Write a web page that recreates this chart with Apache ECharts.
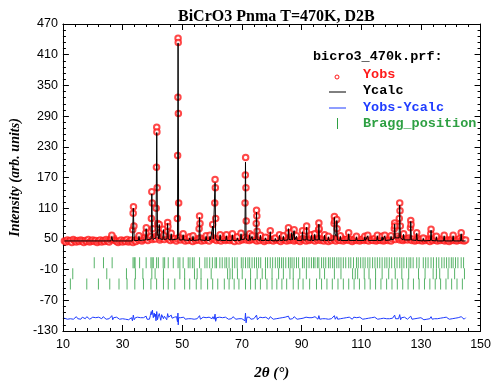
<!DOCTYPE html>
<html>
<head>
<meta charset="utf-8">
<script src="https://cdn.jsdelivr.net/npm/echarts@6/dist/echarts.min.js"></script>
<style>html,body{margin:0;padding:0;background:#fff}#c{width:494px;height:386px}</style>
</head>
<body>
<div id="c"></div>
<script>
// ---- data ----
var titleText = 'BiCrO3 Pnma T=470K, D2B';
var xTicks = [10, 30, 50, 70, 90, 110, 130, 150];
var yTicks = [-130, -70, -10, 50, 110, 170, 230, 290, 350, 410, 470];

// observed intensities, background part
var obsBase = [
[10.5,46],[11,44],[11.5,48],[12,45],[12.5,47],[13,43],[13.5,49],[14,46],[14.5,44],[15,47],
[15.5,45],[16,48],[16.5,46],[17,43],[17.5,47],[18,45],[18.5,49],[19,44],[19.5,46],[20,48],
[20.5,45],[21,47],[21.5,43],[22,46],[22.5,48],[23,44],[23.5,47],[24,45],[24.5,49],[25,46],
[25.5,44],[26,48],[26.5,50],[27,52],[27.5,47],[28,45],[28.5,43],[29,46],[29.5,48],[30,44],
[30.5,47],[31,45],[31.5,49],[32,44],[32.5,46],[33,48],[33.5,43],[34,47],[34.5,45],[35,50],
[35.5,48],[36,51],[36.5,46],[37,49],[37.5,53],[38,50],[38.5,47],[39,52],[39.5,55],[40,49],
[40.5,52],[41,50],[41.5,56],[42,54],[42.5,48],[43,51],[43.5,55],[44,49],[44.5,53],[45,58],
[45.5,50],[46,47],[46.5,52],[47,49],[47.5,51],[48,46],[48.5,50],[49,53],[49.5,48],[50,52],
[50.5,49],[51,46],[51.5,50],[52,47],[52.5,52],[53,48],[53.5,45],[54,51],[54.5,47],[55,50],
[55.5,48],[56,52],[56.5,46],[57,50],[57.5,47],[58,51],[58.5,49],[59,46],[59.5,53],[60,50],
[60.5,52],[61,49],[61.5,47],[62,51],[62.5,48],[63,46],[63.5,50],[64,53],[64.5,47],[65,49],
[65.5,51],[66,47],[66.5,50],[67,48],[67.5,45],[68,52],[68.5,49],[69,46],[69.5,51],[70,48],
[70.5,50],[71,53],[71.5,48],[72,51],[72.5,47],[73,50],[73.5,49],[74,52],[74.5,48],[75,46],
[75.5,50],[76,47],[76.5,51],[77,49],[77.5,45],[78,48],[78.5,52],[79,47],[79.5,50],[80,48],
[80.5,46],[81,50],[81.5,48],[82,51],[82.5,47],[83,45],[83.5,49],[84,52],[84.5,48],[85,46],
[85.5,50],[86,47],[86.5,49],[87,51],[87.5,46],[88,48],[88.5,50],[89,47],[89.5,45],[90,49],
[90.5,51],[91,48],[91.5,46],[92,50],[92.5,47],[93,49],[93.5,52],[94,48],[94.5,46],[95,50],
[95.5,48],[96,51],[96.5,47],[97,49],[97.5,46],[98,50],[98.5,48],[99,45],[99.5,49],[100,47],
[100.5,51],[101,49],[101.5,46],[102,50],[102.5,48],[103,47],[103.5,51],[104,46],[104.5,49],[105,48],
[105.5,50],[106,47],[106.5,49],[107,45],[107.5,48],[108,51],[108.5,47],[109,49],[109.5,46],[110,48],
[110.5,50],[111,47],[111.5,49],[112,48],[112.5,46],[113,50],[113.5,48],[114,47],[114.5,51],[115,46],
[115.5,48],[116,50],[116.5,47],[117,49],[117.5,46],[118,48],[118.5,51],[119,47],[119.5,49],[120,46],
[120.5,50],[121,53],[121.5,49],[122,55],[122.5,51],[123,48],[123.5,50],[124,47],[124.5,49],[125,51],
[125.5,48],[126,52],[126.5,49],[127,47],[127.5,50],[128,46],[128.5,48],[129,51],[129.5,47],[130,49],
[130.5,46],[131,49],[131.5,47],[132,50],[132.5,48],[133,45],[133.5,49],[134,47],[134.5,50],[135,48],
[135.5,46],[136,49],[136.5,47],[137,50],[137.5,48],[138,46],[138.5,49],[139,47],[139.5,45],[140,48],
[140.5,50],[141,47],[141.5,49],[142,46],[142.5,48],[143,51],[143.5,47],[144,49],[144.5,46],[145,48]
];

// observed intensities on the reflections
var obsPeaks = [
[26.3,52],[26.4,57],[33.4,68],[33.55,100],[33.65,113],[33.8,75],[35.5,56],[37.8,62],[37.95,72],
[39.65,90],[39.8,142],[39.95,120],[40.1,70],[41.25,110],[41.35,190],[41.45,268],[41.5,259],[41.6,150],[41.75,80],
[42.3,78],[42.4,62],[43.7,69],[43.85,58],[45.0,65],[45.1,82],[45.2,74],[46.3,61],
[48.35,90],[48.45,213],[48.55,327],[48.6,442],[48.65,434],[48.7,295],[48.8,120],
[50.3,60],[52.5,54],[53.6,56],[55.65,70],[55.8,95],[55.95,80],[58,56],[59.3,57],[60.2,78],
[60.9,120],[61.0,166],[61.1,150],[61.2,90],[62.7,58],[64.8,58],[66.8,60],[68.5,54],[69.7,61],
[71.05,120],[71.15,175],[71.25,209],[71.35,150],[71.45,85],[72.6,60],[73.4,56],
[74.8,80],[74.9,106],[75.0,95],[75.1,65],[76.2,57],[77.9,53],[79.5,66],[81.2,52],[82.6,58],[83.9,56],
[85.5,62],[85.6,72],[86.7,63],[87.5,68],[88.3,56],[90.3,66],[91.6,65],[91.7,75],[93.3,58],[94.4,60],
[95.7,68],[95.8,81],[95.9,70],[97.7,58],[99,55],[100.9,80],[101.0,94],[101.1,85],[101.8,88],[101.9,70],
[103,56],[105.8,62],[108.4,55],[111.2,55],[112.2,57],[115.4,57],[117,55],[117.9,57],[120,56],
[121.1,70],[121.2,81],[121.3,75],[122.75,90],[122.9,120],[123.0,105],[123.1,75],[124.2,60],
[126.5,72],[126.6,86],[126.7,78],[128.6,62],[130.8,52],[133.3,60],[133.4,69],[135.2,55],
[137.8,57],[140.8,57],[143.5,62]
];

// calculated profile
var ycalc = [
[10.5,46],[26.1,46],[26.4,55],[26.7,46],[33.3,46],[33.6,110],[33.9,47],[35.3,47],[35.5,55],[35.7,47],
[37.7,48],[37.9,70],[38.2,48],[39.6,50],[39.8,138],[40.0,60],[40.2,49],[41.2,52],[41.45,258],[41.7,60],
[42.1,50],[42.3,78],[42.5,50],[43.5,49],[43.7,68],[43.9,49],[44.9,50],[45.1,80],[45.3,50],[46.1,48],
[46.3,60],[46.5,48],[48.4,50],[48.6,433],[48.8,55],[49.0,48],[50.1,48],[50.3,58],[50.5,48],[52.3,47],
[52.5,52],[52.7,47],[53.4,47],[53.6,55],[53.8,47],[55.6,48],[55.8,92],[56.0,48],[57.8,47],[58.0,55],
[58.2,47],[59.1,47],[59.3,55],[59.5,48],[60.0,48],[60.2,75],[60.4,50],[60.8,52],[61.0,160],[61.2,52],
[61.4,48],[62.5,47],[62.7,58],[62.9,47],[64.6,47],[64.8,56],[65.0,47],[66.6,47],[66.8,58],[67.0,47],
[68.3,47],[68.5,52],[68.7,47],[69.5,47],[69.7,60],[69.9,48],[71.0,50],[71.2,200],[71.4,52],[71.6,48],
[72.4,47],[72.6,58],[72.8,47],[73.2,47],[73.4,55],[73.6,48],[74.7,49],[74.9,102],[75.1,49],[76.0,47],
[76.2,57],[76.4,47],[77.7,47],[77.9,52],[78.1,47],[79.3,47],[79.5,64],[79.7,47],[81.0,46],[81.2,51],
[81.4,46],[82.4,47],[82.6,57],[82.8,47],[83.7,47],[83.9,55],[84.1,47],[85.4,48],[85.6,70],[85.8,49],
[86.5,48],[86.7,62],[86.9,48],[87.3,48],[87.5,66],[87.7,48],[88.1,47],[88.3,55],[88.5,47],[90.1,47],
[90.3,64],[90.5,48],[91.5,48],[91.7,73],[91.9,48],[93.1,47],[93.3,57],[93.5,47],[94.2,47],[94.4,59],
[94.6,48],[95.6,48],[95.8,79],[96.0,48],[97.5,47],[97.7,57],[97.9,47],[98.8,47],[99.0,54],[99.2,47],
[100.8,48],[101.0,92],[101.2,60],[101.6,55],[101.8,86],[102.0,48],[102.8,47],[103.0,55],[103.2,47],
[105.6,47],[105.8,60],[106.0,47],[108.2,47],[108.4,54],[108.6,47],[111.0,47],[111.2,54],[111.4,47],
[112.0,47],[112.2,56],[112.4,47],[115.2,47],[115.4,56],[115.6,47],[116.8,47],[117.0,54],[117.2,47],
[117.7,47],[117.9,56],[118.1,47],[119.8,48],[120.0,55],[120.2,48],[121.0,50],[121.2,79],[121.4,52],
[122.7,52],[122.9,116],[123.1,52],[124.0,48],[124.2,59],[124.4,48],[126.4,48],[126.6,84],[126.8,48],
[128.4,47],[128.6,61],[128.8,47],[130.6,46],[130.8,51],[131.0,46],[133.2,47],[133.4,67],[133.6,47],
[135.0,46],[135.2,54],[135.4,46],[137.6,46],[137.8,56],[138.0,46],[140.6,46],[140.8,56],[141.0,46],
[143.3,46],[143.5,60],[143.7,46],[145.0,46]
];

// difference curve (already offset in the reference)
var diff = [
[10.5,-105],[11,-102],[11.5,-107],[12,-104],[12.5,-106],[13,-103],[13.5,-107],[14,-105],[14.5,-102],[15,-106],
[15.5,-104],[16,-107],[16.5,-103],[17,-105],[17.5,-106],[18,-102],[18.5,-105],[19,-107],[19.5,-104],[20,-103],
[20.5,-106],[21,-104],[21.5,-107],[22,-103],[22.5,-105],[23,-106],[23.5,-102],[24,-105],[24.5,-107],[25,-104],
[25.5,-106],[26,-103],[26.4,-100],[26.7,-108],[27,-104],[27.5,-106],[28,-103],[28.5,-105],[29,-107],[29.5,-104],
[30,-106],[30.5,-103],[31,-107],[31.5,-105],[32,-108],[32.5,-106],[33,-104],[33.3,-110],[33.6,-99],[33.9,-108],
[34.3,-104],[34.7,-107],[35,-103],[35.5,-106],[36,-104],[36.5,-107],[37,-104],[37.5,-106],[37.9,-101],[38.2,-107],
[38.6,-104],[39,-107],[39.3,-100],[39.6,-92],[39.8,-98],[40.0,-89],[40.3,-104],[40.6,-95],[40.8,-102],[41.0,-97],
[41.2,-110],[41.45,-92],[41.7,-108],[42.0,-101],[42.3,-96],[42.6,-104],[42.8,-109],[43.1,-98],[43.3,-95],[43.7,-106],
[44.0,-101],[44.2,-98],[44.5,-104],[44.8,-108],[45.1,-96],[45.4,-103],[45.6,-106],[46.0,-101],[46.3,-99],[46.6,-105],
[47,-107],[47.4,-103],[47.8,-105],[48.1,-102],[48.4,-112],[48.55,-95],[48.65,-118],[48.8,-104],[49.1,-107],[49.5,-104],
[50,-106],[50.5,-103],[51,-107],[51.5,-104],[52,-106],[52.5,-103],[53,-106],[53.5,-104],[54,-107],[54.5,-104],
[55,-106],[55.5,-103],[55.8,-100],[56.1,-107],[56.5,-105],[57,-103],[57.5,-106],[58,-104],[58.5,-107],[59,-103],
[59.5,-105],[60,-106],[60.3,-102],[60.7,-107],[61.0,-97],[61.2,-111],[61.5,-104],[62,-106],[62.5,-103],[63,-106],
[63.5,-104],[64,-107],[64.5,-103],[65,-105],[65.5,-107],[66,-104],[66.5,-106],[67,-102],[67.5,-105],[68,-107],
[68.5,-104],[69,-106],[69.5,-103],[70,-106],[70.5,-104],[71.0,-110],[71.2,-95],[71.4,-114],[71.7,-103],[72,-106],
[72.5,-103],[73,-107],[73.5,-104],[74,-106],[74.5,-103],[74.9,-99],[75.2,-108],[75.5,-105],[76,-103],[76.5,-106],
[77,-104],[77.5,-107],[78,-103],[78.5,-105],[79,-107],[79.5,-102],[80,-105],[80.5,-107],[81,-104],[81.5,-106],
[82,-103],[82.5,-105],[83,-107],[83.5,-104],[84,-106],[84.5,-103],[85,-106],[85.6,-101],[86,-107],[86.5,-104],
[87,-106],[87.5,-102],[88,-105],[88.5,-107],[89,-104],[89.5,-106],[90,-103],[90.5,-105],[91,-107],[91.5,-103],
[92,-106],[92.5,-104],[93,-107],[93.5,-104],[94,-106],[94.5,-102],[95,-105],[95.5,-107],[95.8,-100],[96.1,-107],
[96.5,-104],[97,-106],[97.5,-103],[98,-106],[98.5,-104],[99,-107],[99.5,-104],[100,-106],[100.5,-103],[101.0,-100],
[101.3,-107],[101.8,-102],[102.1,-107],[102.5,-104],[103,-106],[103.5,-103],[104,-105],[104.5,-107],[105,-104],[105.5,-106],
[106,-103],[106.5,-105],[107,-107],[107.5,-103],[108,-106],[108.5,-104],[109,-106],[109.5,-103],[110,-105],[110.5,-107],
[111,-104],[111.5,-106],[112,-103],[112.5,-105],[113,-107],[113.5,-104],[114,-106],[114.5,-103],[115,-105],[115.5,-107],
[116,-104],[116.5,-106],[117,-103],[117.5,-105],[118,-102],[118.5,-106],[119,-104],[119.5,-106],[120,-103],[120.5,-105],
[121.0,-102],[121.2,-99],[121.5,-106],[122,-103],[122.5,-106],[122.9,-98],[123.2,-108],[123.5,-104],[124,-106],[124.5,-103],
[125,-105],[125.5,-107],[126,-104],[126.6,-101],[127,-107],[127.5,-104],[128,-106],[128.5,-103],[129,-105],[129.5,-107],
[130,-104],[130.5,-106],[131,-108],[131.5,-105],[132,-107],[132.5,-104],[133,-106],[133.4,-102],[133.8,-107],[134.2,-104],
[134.5,-106],[135,-104],[135.5,-106],[136,-103],[136.5,-105],[137,-107],[137.5,-104],[138,-106],[138.5,-103],[139,-105],
[139.5,-107],[140,-104],[140.5,-106],[141,-103],[141.5,-105],[142,-107],[142.5,-104],[143,-106],[143.5,-102],[144,-105],
[144.5,-107],[145,-104]
];

// Bragg reflection positions, three phases (rows)
var bragg1 = [20.5,23.6,26.5,33.5,33.9,34.2,35.7,37.9,39.5,39.9,40.3,41.4,42.0,43.6,44.1,45.3,47.0,48.6,49.2,50.3,
52.0,52.6,53.4,54.0,55.8,57.6,58.3,59.2,60.1,61.0,61.5,62.6,63.4,64.3,64.9,65.7,66.8,67.6,68.4,69.8,70.4,71.2,
72.0,72.6,73.4,74.2,74.9,75.6,76.3,77.9,78.6,79.5,80.3,81.2,82.0,82.6,83.3,83.9,84.7,85.6,86.2,86.8,87.5,88.3,
89.0,90.3,90.9,91.7,92.5,93.3,94.0,94.5,95.3,95.8,96.7,97.4,98.1,99.0,99.6,100.4,101.0,101.8,102.5,103.2,104.0,
104.8,105.8,106.5,107.4,108.4,109.0,109.8,110.6,111.3,112.2,112.9,113.8,114.6,115.4,116.2,117.0,117.9,118.6,
119.4,120.2,121.2,122.0,122.9,123.6,124.3,125.2,126.0,126.6,127.4,128.6,129.4,130.8,131.6,132.4,133.4,134.2,
135.2,136.0,137.0,137.8,138.6,139.4,140.2,140.8,141.6,142.4,143.5,144.3];
var bragg2 = [13.3,24.7,31.3,34.3,36.8,39.8,40.9,43.7,49.2,50.8,54.1,55.0,56.3,59.7,65.2,66.0,66.8,68.5,70.1,72.9,
75.1,76.8,77.9,80.1,82.3,83.9,86.1,87.2,89.4,91.6,96.1,97.7,101.0,103.2,107.1,108.0,108.8,111.0,112.6,114.8,
117.0,119.2,121.4,123.6,125.9,129.2,131.4,134.1,135.2,136.3,139.1,141.3,144.6];
var bragg3 = [12.5,18.0,21.9,25.7,28.8,31.5,34.1,37.0,39.5,41.4,43.7,45.3,47.5,50.8,52.5,54.7,56.3,58.5,60.2,61.9,
64.1,65.7,67.4,69.0,71.2,72.9,74.5,76.2,78.4,80.1,81.7,83.4,85.0,87.2,88.9,90.5,92.7,95.0,96.7,98.5,100.3,102.2,
104.0,105.8,107.6,109.4,111.2,113.0,114.8,116.6,118.5,120.3,122.1,123.9,125.7,127.5,129.4,131.2,133.0,134.8,
136.6,138.4,140.3,142.1,143.9];
var braggRowY = [3.5, -18, -38];

var legendHeader = 'bicro3_470k.prf:';
var legendNames = ['Yobs', 'Ycalc', 'Yobs-Ycalc', 'Bragg_position'];

// ---- chart ----
var RED = '#ff1a1a', BLACK = '#000', BLUE = '#1f3cff', GREEN = '#2ea043';
function rowData(arr, y){ return arr.map(function(x){ return [x, y]; }); }

var tickFont = {color:'#000', fontFamily:'"Liberation Sans", Arial, sans-serif', fontSize:12.5};
function xAx(pos, show){
  return {type:'value', min:10, max:150, interval:20, position:pos,
    axisLine:{show:true, onZero:false, lineStyle:{color:'#000', width:1}},
    axisTick:{show:true, inside:true, length:6, lineStyle:{color:'#000'}},
    minorTick:{show:true, splitNumber:5, length:3, lineStyle:{color:'#000'}},
    splitLine:{show:false}, minorSplitLine:{show:false},
    axisLabel:Object.assign({show:show, margin:7}, tickFont),
    name: show ? '2θ (°)' : '', nameLocation:'middle', nameGap:35,
    nameTextStyle:{fontFamily:'"Liberation Serif", serif', fontWeight:'bold', fontStyle:'italic', fontSize:15, color:'#000'}
  };
}
function yAx(pos, show){
  return {type:'value', min:-130, max:470, interval:60, position:pos,
    axisLine:{show:true, onZero:false, lineStyle:{color:'#000', width:1}},
    axisTick:{show:true, inside:true, length:6, lineStyle:{color:'#000'}},
    minorTick:{show:true, splitNumber:5, length:3, lineStyle:{color:'#000'}},
    splitLine:{show:false}, minorSplitLine:{show:false},
    axisLabel:Object.assign({show:show, margin:5}, tickFont),
    name: show ? 'Intensity (arb. units)' : '', nameLocation:'middle', nameGap:37, nameRotate:90,
    nameTextStyle:{fontFamily:'"Liberation Serif", serif', fontWeight:'bold', fontStyle:'italic', fontSize:14, color:'#000'}
  };
}

var braggSeries = [bragg1, bragg2, bragg3].map(function(arr, i){
  return {type:'scatter', name:'Bragg_position', data: rowData(arr, braggRowY[i]),
    symbol:'rect', symbolSize:[1, 11], itemStyle:{color:GREEN}, silent:true, z:2};
});

var gx = 313, lx = 363;
var legendFont = 'bold 13.5px "Liberation Mono", "Courier New", monospace';
var chart = echarts.init(document.getElementById('c'), null, {renderer:'canvas'});
chart.setOption({
  animation:false,
  backgroundColor:'#fff',
  title:{text:titleText, left:173, top:4,
    textStyle:{fontFamily:'"Liberation Serif", serif', fontWeight:'bold', fontSize:16, color:'#000'}},
  grid:{left:60, right:11, top:24, bottom:44, containLabel:false},
  xAxis:[xAx('bottom', true), xAx('top', false)],
  yAxis:[yAx('left', true), yAx('right', false)],
  series:[
    {type:'scatter', name:'Yobs', data: obsBase.concat(obsPeaks), symbol:'emptyCircle', symbolSize:5.5,
      itemStyle:{color:RED, borderColor:RED, borderWidth:1}, z:3, silent:true},
    {type:'line', name:'Ycalc', data: ycalc, showSymbol:false, lineStyle:{color:BLACK, width:1}, z:4, silent:true},
    {type:'line', name:'Yobs-Ycalc', data: diff, showSymbol:false, lineStyle:{color:BLUE, width:1}, z:4, silent:true}
  ].concat(braggSeries),
  graphic:[
    {type:'text', x:gx, y:57, style:{text:legendHeader, font:legendFont, fill:'#000', verticalAlign:'middle'}},
    {type:'circle', shape:{cx:337, cy:77, r:2}, style:{fill:'none', stroke:RED, lineWidth:1}},
    {type:'text', x:lx, y:75, style:{text:legendNames[0], font:legendFont, fill:RED, verticalAlign:'middle'}},
    {type:'line', shape:{x1:329, y1:92, x2:346, y2:92}, style:{stroke:BLACK, lineWidth:1}},
    {type:'text', x:lx, y:91, style:{text:legendNames[1], font:legendFont, fill:'#000', verticalAlign:'middle'}},
    {type:'line', shape:{x1:329, y1:108, x2:346, y2:108}, style:{stroke:BLUE, lineWidth:1}},
    {type:'text', x:lx, y:108, style:{text:legendNames[2], font:legendFont, fill:BLUE, verticalAlign:'middle'}},
    {type:'line', shape:{x1:337.5, y1:118, x2:337.5, y2:129}, style:{stroke:GREEN, lineWidth:1}},
    {type:'text', x:lx, y:124, style:{text:legendNames[3], font:legendFont, fill:GREEN, verticalAlign:'middle'}}
  ]
});
</script>
</body>
</html>
